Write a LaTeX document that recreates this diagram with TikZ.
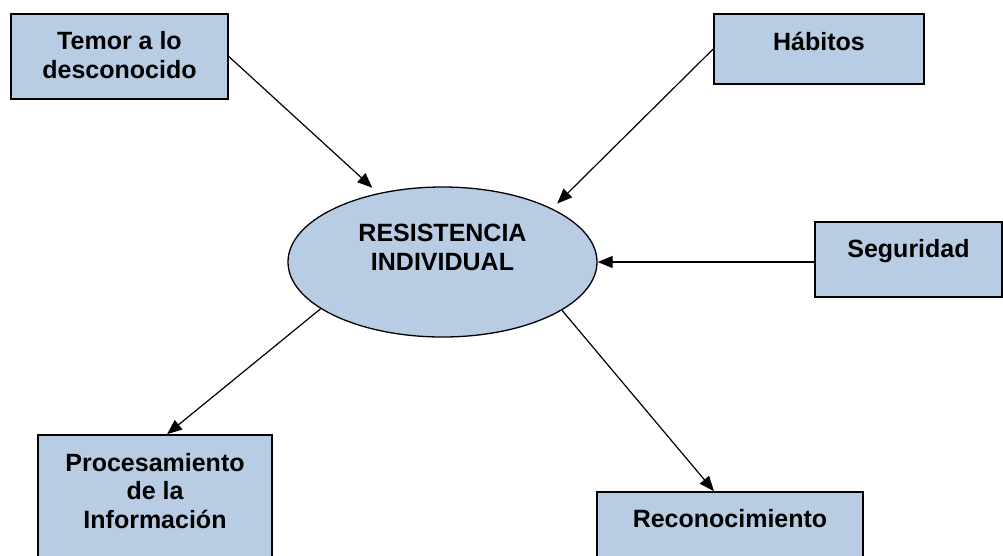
\documentclass[tikz,border=0pt]{standalone}
\usepackage{fontspec}
\setmainfont{Liberation Sans}
\usetikzlibrary{arrows.meta,shapes.geometric}
\definecolor{boxblue}{RGB}{184,204,228}
\begin{document}
\begin{tikzpicture}[x=1pt,y=-1pt,
    box/.style={draw,line width=1.6pt,fill=boxblue,inner sep=0pt,align=center,
      font=\fontsize{25}{28.5}\selectfont\bfseries},
    oval/.style={box,ellipse,line width=1.3pt}]
  \useasboundingbox (0,0) rectangle (1003,555);
  \draw
    (119.5,56.5) node[box,minimum width=217,minimum height=85,text height=64,text depth=21] (temor){Temor a lo\\desconocido}
    (819,49) node[box,minimum width=210,minimum height=70,text height=36,text depth=34] (habitos){Hábitos}
    (908.5,259.5) node[box,minimum width=187,minimum height=75,text height=35,text depth=40] (seguridad){Seguridad}
    (442.5,262) node[oval,minimum width=309,minimum height=150,text height=33,text depth=17] (res){RESISTENCIA\\INDIVIDUAL}
    (155,507.5) node[box,minimum width=234,minimum height=145,text height=93,text depth=52] (proc){Procesamiento\\de la\\Información}
    (730,542) node[box,minimum width=266,minimum height=100,text height=35,text depth=65] (reco){Reconocimiento};
  \begin{scope}[-{Triangle[length=15pt,width=12pt]},line width=1.2pt]
    \draw[shorten >=8pt] (temor.east) to (res.133);
    \draw[shorten >=7pt] (habitos.west) to (res.26.5);
    \draw (res.east -| seguridad.west) to (res.east);
    \draw (res.201) to ([xshift=12pt]proc.north);
    \draw (res.338) to ([xshift=-16pt]reco.north);
  \end{scope}
\end{tikzpicture}
\end{document}
